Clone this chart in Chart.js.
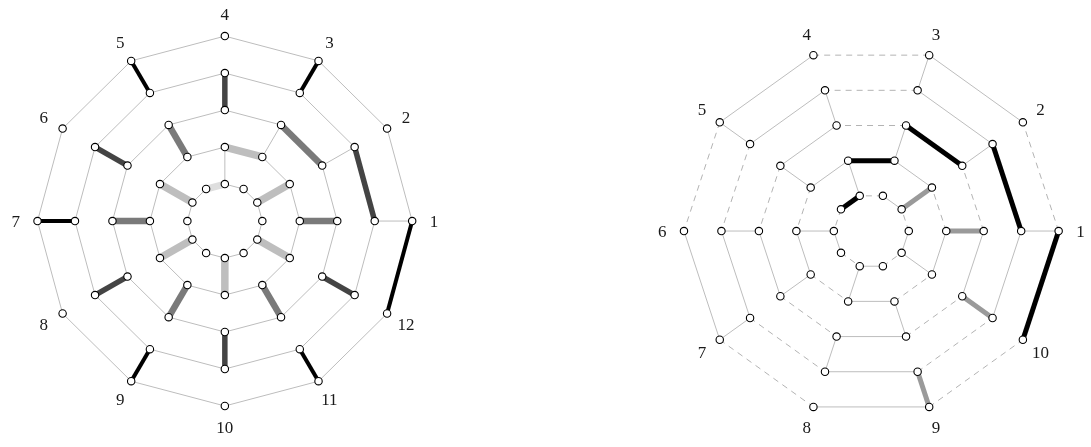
<!DOCTYPE html>
<html>
<head>
<meta charset="utf-8">
<script src="https://cdn.jsdelivr.net/npm/chart.js@4.4.0/dist/chart.umd.min.js"></script>
<style>
  html, body { margin: 0; padding: 0; background: #fff; }
  #wrap { width: 1091px; height: 447px; position: relative; }
</style>
</head>
<body>
<div id="wrap"><canvas id="myChart"></canvas></div>
<script>
// vertex labels
var leftLabels = ['1', '2', '3', '4', '5', '6', '7', '8', '9', '10', '11', '12'];
var rightLabels = ['1', '2', '3', '4', '5', '6', '7', '8', '9', '10'];

// ring levels, inner to outer
var leftRings = [1, 2, 3, 4, 5];
var rightRings = [1, 2, 3, 4, 5];

// edge i of a ring joins vertex i and vertex i+1
// t thin, d dashed, K black, D dark grey, M mid grey, L light grey, V very light, B black, G grey
var leftRingEdges = [
  'tttVtttttttt',
  'ttLttttttttt',
  'tMtttttttttt',
  'Dttttttttttt',
  'tttttttttttK'
];
// spokes between ring k and ring k+1 at vertex i ('-' = none)
var leftSpokes = [
  '-L-t-L-L-L-L',
  'M-t-M-M-M-M-',
  '-t-D-D-D-D-D',
  't-K-K-K-K-K-'
];

var rightRingEdges = [
  'dtdBdtdtdt',
  'dtBtdtdtdt',
  'dBdtdtdtdt',
  'Btdtdtdtdt',
  'dtdtdtdtdB'
];
var rightSpokes = [
  '-G-t-t-t-t',
  'G-t-t-t-t-',
  '-t-t-t-t-G',
  't-t-t-t-G-'
];

var styles = {
  t: { color: '#bdbdbd', width: 1, order: 2 },
  d: { color: '#b3b3b3', width: 1, dash: [6, 5], order: 2 },
  K: { color: '#000000', width: 4, order: 1 },
  D: { color: '#444444', width: 5.5, order: 1 },
  M: { color: '#7a7a7a', width: 6.5, order: 1 },
  L: { color: '#bebebe', width: 7.5, order: 1 },
  V: { color: '#dedede', width: 7, order: 1 },
  B: { color: '#000000', width: 5, order: 1 },
  G: { color: '#9a9a9a', width: 5, order: 1 }
};

var diagrams = [
  { labels: leftLabels, rings: leftRings, ringEdges: leftRingEdges, spokes: leftSpokes, cx: 222, cy: 221, step: 37.8 },
  { labels: rightLabels, rings: rightRings, ringEdges: rightRingEdges, spokes: rightSpokes, cx: 874.2, cy: 231.2, step: 37.8 }
];
var labelRadius = 211;

function vertex(d, ring, i) {
  var n = d.labels.length;
  var a = i * 2 * Math.PI / n;
  var r = ring * d.step;
  return { x: d.cx + r * Math.cos(a), y: d.cy - r * Math.sin(a) };
}

var datasets = [];
var nodes = [];

function addEdge(code, p, q) {
  if (code == '-' || code == undefined) return;
  var s = styles[code];
  datasets.push({
    data: [p, q],
    showLine: true,
    borderColor: s.color,
    borderWidth: s.width,
    borderDash: s.dash || [],
    pointRadius: 0,
    pointHoverRadius: 0,
    order: s.order
  });
}

for (var k = 0; k < diagrams.length; k++) {
  var d = diagrams[k];
  var n = d.labels.length;
  for (var ri = 0; ri < d.rings.length; ri++) {
    var ring = d.rings[ri];
    for (var i = 0; i < n; i++) {
      nodes.push(vertex(d, ring, i));
      addEdge(d.ringEdges[ri][i], vertex(d, ring, i), vertex(d, ring, (i + 1) % n));
      if (ri < d.spokes.length) {
        addEdge(d.spokes[ri][i], vertex(d, ring, i), vertex(d, d.rings[ri + 1], i));
      }
    }
  }
}

datasets.push({
  data: nodes,
  showLine: false,
  pointRadius: 3.7,
  pointHoverRadius: 3.7,
  pointBorderWidth: 1.1,
  pointBackgroundColor: '#ffffff',
  pointBorderColor: '#000000',
  order: 0
});

var labelPlugin = {
  id: 'vertexLabels',
  afterDraw: function(chart) {
    var ctx = chart.ctx;
    var xs = chart.scales.x;
    var ys = chart.scales.y;
    ctx.save();
    ctx.font = '17px "Liberation Serif", "DejaVu Serif", serif';
    ctx.fillStyle = '#1a1a1a';
    ctx.textAlign = 'center';
    ctx.textBaseline = 'middle';
    for (var k = 0; k < diagrams.length; k++) {
      var d = diagrams[k];
      var n = d.labels.length;
      for (var i = 0; i < n; i++) {
        var a = i * 2 * Math.PI / n;
        var x = d.cx + labelRadius * Math.cos(a);
        var y = d.cy - labelRadius * Math.sin(a);
        ctx.fillText(d.labels[i], xs.getPixelForValue(x), ys.getPixelForValue(y) + 1);
      }
    }
    ctx.restore();
  }
};

var ctx = document.getElementById('myChart').getContext('2d');
var chart = new Chart(ctx, {
  type: 'scatter',
  data: { datasets: datasets },
  options: {
    responsive: true,
    maintainAspectRatio: false,
    animation: false,
    layout: { padding: 0 },
    scales: {
      x: { type: 'linear', min: 0, max: 1091, display: false },
      y: { type: 'linear', min: 0, max: 447, reverse: true, display: false }
    },
    plugins: {
      legend: { display: false },
      tooltip: { enabled: false }
    },
    events: []
  },
  plugins: [labelPlugin]
});
</script>
</body>
</html>
